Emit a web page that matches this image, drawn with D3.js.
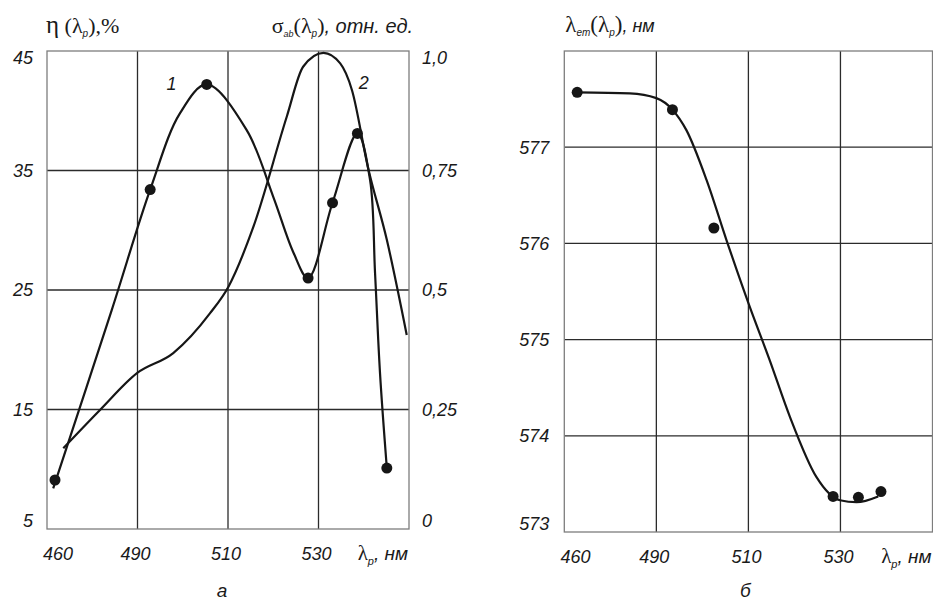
<!DOCTYPE html>
<html>
<head>
<meta charset="utf-8">
<script src="https://cdn.jsdelivr.net/npm/d3@7"></script>
<style>
  body { margin: 0; background: #fff; }
  text { font-family: "Liberation Sans", Arial, sans-serif; fill: #1a1a1a; }
  .serif { font-family: "Liberation Serif", "Times New Roman", serif; }
</style>
</head>
<body>
<div id="chart"></div>
<script>
// Wavelength axis (drawn unevenly in the original: first column is wider in nm)
var wlBreaks = [455, 490, 510, 530, 550];
var wlTicks = [460, 490, 510, 530];
var wlGrid = [490, 510, 530];

// Left panel axes
var etaTicks = [5, 15, 25, 35, 45];
var sigmaTicks = [0, 0.25, 0.5, 0.75, 1.0];
var sigmaLabels = ["0", "0,25", "0,5", "0,75", "1,0"];

// Right panel axis
var emTicks = [573, 574, 575, 576, 577];
var emGrid = [574, 575, 576, 577];

// Curve 1: eta(lambda_p), measured dots
var etaDotWl = [458.1, 492.8, 505.3, 527.7, 533.1, 538.6, 545.1];
var etaDotVal = [9.1, 33.4, 42.2, 26.0, 32.3, 38.1, 10.1];

// Curve 1: drawn line
var etaLineWl = [457.4, 480.0, 492.8, 499.4, 505.3, 514.1, 520.0, 524.5, 527.7, 533.1, 538.6, 541.4, 542.5, 543.6, 545.1];
var etaLineVal = [8.4, 23.3, 33.4, 39.8, 42.2, 38.4, 32.8, 28.1, 26.0, 32.3, 38.1, 34.2, 26.4, 18.0, 10.1];

// Curve 2: sigma_ab(lambda_p), relative units
var sigmaLineWl = [461.3, 475.5, 489.8, 497.9, 506.0, 510.1, 515.6, 523.0, 526.6, 531.1, 534.8, 537.4, 540.9, 545.1, 549.5];
var sigmaLineVal = [0.169, 0.249, 0.326, 0.368, 0.451, 0.507, 0.632, 0.863, 0.967, 0.996, 0.974, 0.918, 0.758, 0.605, 0.406];

// Curve labels
var curveNames = ["1", "2"];
var curveNameWl = [497.5, 540.0];
var curveNameEta = [41.7, 41.8];

// Right panel: lambda_em(lambda_p)
var emDotWl = [459.9, 493.5, 502.5, 528.4, 533.9, 538.8];
var emDotVal = [577.57, 577.39, 576.16, 573.37, 573.36, 573.42];
var emLineWl = [459.9, 479.9, 490.0, 493.5, 496.5, 500.9, 505.2, 510.3, 514.6, 519.0, 524.8, 529.9, 533.5, 538.2];
var emLineVal = [577.57, 577.56, 577.51, 577.39, 577.18, 576.66, 576.04, 575.34, 574.79, 574.20, 573.57, 573.33, 573.31, 573.37];

var svgWidth = 933;
var svgHeight = 600;

var leftPanel = { left: 47, right: 409, top: 51, bottom: 529 };
var rightPanel = { left: 564.3, right: 932.5, top: 51, bottom: 532 };

var frameColor = "#7d7d7d";
var gridColor = "#2b2b2b";
var inkColor = "#161616";

var svg = d3.select("#chart")
  .append("svg")
  .attr("width", svgWidth)
  .attr("height", svgHeight);

function wlScale(p) {
  var step = (p.right - p.left) / (wlBreaks.length - 1);
  return d3.scaleLinear()
    .domain(wlBreaks)
    .range(wlBreaks.map((d, i) => p.left + i * step));
}

function zip(xs, ys) {
  return xs.map((d, i) => ({ x: d, y: ys[i] }));
}

// text with mixed fonts and subscripts
function richText(g, x, y, anchor, parts) {
  var t = g.append("text")
    .attr("x", x)
    .attr("y", y)
    .attr("text-anchor", anchor);
  parts.forEach(p => {
    t.append("tspan")
      .attr("class", p.serif ? "serif" : null)
      .attr("font-size", p.s)
      .attr("font-style", p.i ? "italic" : "normal")
      .attr("dy", p.dy || 0)
      .text(p.t);
  });
  return t;
}

function drawFrame(p, x, y, yGridVals) {
  svg.append("g")
    .selectAll("line")
    .data(wlGrid)
    .enter()
    .append("line")
    .attr("x1", d => x(d)).attr("x2", d => x(d))
    .attr("y1", p.top).attr("y2", p.bottom)
    .attr("stroke", gridColor)
    .attr("stroke-width", 1.3);

  svg.append("g")
    .selectAll("line")
    .data(yGridVals)
    .enter()
    .append("line")
    .attr("x1", p.left).attr("x2", p.right)
    .attr("y1", d => y(d)).attr("y2", d => y(d))
    .attr("stroke", gridColor)
    .attr("stroke-width", 1.3);

  svg.append("rect")
    .attr("x", p.left).attr("y", p.top)
    .attr("width", p.right - p.left)
    .attr("height", p.bottom - p.top)
    .attr("fill", "none")
    .attr("stroke", frameColor)
    .attr("stroke-width", 1.3);
}

function clampLabel(p, v) {
  return Math.max(p.top + 7, Math.min(p.bottom - 8, v));
}

function drawWlLabels(p, x) {
  svg.append("g")
    .selectAll("text")
    .data(wlTicks)
    .enter()
    .append("text")
    .attr("x", d => x(d) - 2)
    .attr("y", p.bottom + 31)
    .attr("text-anchor", "middle")
    .attr("font-size", "18px")
    .attr("font-style", "italic")
    .text(d => d);

  richText(svg, p.right - 1, p.bottom + 31, "end", [
    { t: "\u03bb", serif: true, s: "21px" },
    { t: "p", s: "11px", i: true, dy: 5 },
    { t: ", \u043d\u043c", s: "19px", i: true, dy: -5 }
  ]);
}

// ---------- Left panel (а) ----------
var x1 = wlScale(leftPanel);
var yEta = d3.scaleLinear().domain([5, 45]).range([leftPanel.bottom, leftPanel.top]);
var ySig = d3.scaleLinear().domain([0, 1]).range([leftPanel.bottom, leftPanel.top]);

drawFrame(leftPanel, x1, yEta, [15, 25, 35]);

var etaLine = d3.line()
  .x(d => x1(d.x))
  .y(d => yEta(d.y))
  .curve(d3.curveCatmullRom.alpha(0.5));

var sigLine = d3.line()
  .x(d => x1(d.x))
  .y(d => ySig(d.y))
  .curve(d3.curveMonotoneX);

svg.append("path")
  .datum(zip(sigmaLineWl, sigmaLineVal))
  .attr("d", sigLine)
  .attr("fill", "none")
  .attr("stroke", inkColor)
  .attr("stroke-width", 2.2);

svg.append("path")
  .datum(zip(etaLineWl, etaLineVal))
  .attr("d", etaLine)
  .attr("fill", "none")
  .attr("stroke", inkColor)
  .attr("stroke-width", 2.2);

svg.append("g")
  .selectAll("circle")
  .data(zip(etaDotWl, etaDotVal))
  .enter()
  .append("circle")
  .attr("cx", d => x1(d.x))
  .attr("cy", d => yEta(d.y))
  .attr("r", 5.5)
  .attr("fill", inkColor);

svg.append("g")
  .selectAll("text")
  .data(curveNames)
  .enter()
  .append("text")
  .attr("x", (d, i) => x1(curveNameWl[i]))
  .attr("y", (d, i) => yEta(curveNameEta[i]))
  .attr("text-anchor", "middle")
  .attr("font-size", "18px")
  .attr("font-style", "italic")
  .text(d => d);

// left axis labels (eta, %)
svg.append("g")
  .selectAll("text")
  .data(etaTicks)
  .enter()
  .append("text")
  .attr("x", leftPanel.left - 14)
  .attr("y", d => clampLabel(leftPanel, yEta(d)))
  .attr("dy", "0.36em")
  .attr("text-anchor", "end")
  .attr("font-size", "18px")
  .attr("font-style", "italic")
  .text(d => d);

// right axis labels (sigma)
svg.append("g")
  .selectAll("text")
  .data(sigmaTicks)
  .enter()
  .append("text")
  .attr("x", leftPanel.right + 13)
  .attr("y", d => clampLabel(leftPanel, ySig(d)))
  .attr("dy", "0.36em")
  .attr("text-anchor", "start")
  .attr("font-size", "18px")
  .attr("font-style", "italic")
  .text((d, i) => sigmaLabels[i]);

drawWlLabels(leftPanel, x1);

richText(svg, leftPanel.left - 1, 33, "start", [
  { t: "\u03b7", serif: true, s: "25px" },
  { t: " (\u03bb", serif: true, s: "22px" },
  { t: "p", s: "10px", i: true, dy: 4 },
  { t: "),%", serif: true, s: "22px", dy: -4 }
]);

richText(svg, leftPanel.right + 4, 33, "end", [
  { t: "\u03c3", serif: true, s: "22px" },
  { t: "ab", s: "9px", i: true, dy: 4 },
  { t: "(\u03bb", serif: true, s: "22px", dy: -4 },
  { t: "p", s: "10px", i: true, dy: 4 },
  { t: ")", serif: true, s: "22px", dy: -4 },
  { t: ", \u043e\u0442\u043d. \u0435\u0434.", s: "20px", i: true }
]);

svg.append("text")
  .attr("x", (leftPanel.left + leftPanel.right) / 2 - 6)
  .attr("y", 597)
  .attr("text-anchor", "middle")
  .attr("font-size", "19px")
  .attr("font-style", "italic")
  .text("\u0430");

// ---------- Right panel (б) ----------
var x2 = wlScale(rightPanel);
var yEm = d3.scaleLinear().domain([573, 578]).range([rightPanel.bottom, rightPanel.top]);

drawFrame(rightPanel, x2, yEm, emGrid);

var emLine = d3.line()
  .x(d => x2(d.x))
  .y(d => yEm(d.y))
  .curve(d3.curveMonotoneX);

svg.append("path")
  .datum(zip(emLineWl, emLineVal))
  .attr("d", emLine)
  .attr("fill", "none")
  .attr("stroke", inkColor)
  .attr("stroke-width", 2.2);

svg.append("g")
  .selectAll("circle")
  .data(zip(emDotWl, emDotVal))
  .enter()
  .append("circle")
  .attr("cx", d => x2(d.x))
  .attr("cy", d => yEm(d.y))
  .attr("r", 5.5)
  .attr("fill", inkColor);

svg.append("g")
  .selectAll("text")
  .data(emTicks)
  .enter()
  .append("text")
  .attr("x", rightPanel.left - 15)
  .attr("y", d => clampLabel(rightPanel, yEm(d)))
  .attr("dy", "0.36em")
  .attr("text-anchor", "end")
  .attr("font-size", "18px")
  .attr("font-style", "italic")
  .text(d => d);

drawWlLabels(rightPanel, x2);

richText(svg, rightPanel.left + 1, 32, "start", [
  { t: "\u03bb", serif: true, s: "23px" },
  { t: "em", s: "10px", i: true, dy: 4 },
  { t: "(\u03bb", serif: true, s: "23px", dy: -4 },
  { t: "p", s: "10px", i: true, dy: 4 },
  { t: ")", serif: true, s: "23px", dy: -4 },
  { t: ", \u043d\u043c", s: "18px", i: true }
]);

svg.append("text")
  .attr("x", (rightPanel.left + rightPanel.right) / 2 - 3)
  .attr("y", 597)
  .attr("text-anchor", "middle")
  .attr("font-size", "19px")
  .attr("font-style", "italic")
  .text("\u0431");
</script>
</body>
</html>
